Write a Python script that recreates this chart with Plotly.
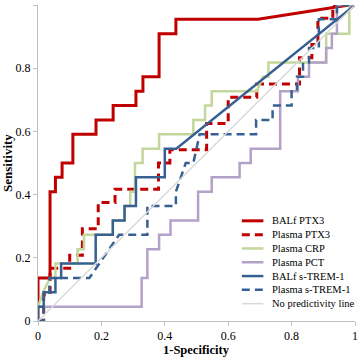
import plotly.graph_objects as go

# ---- data ----
balf_ptx3_fpr = [0, 0, 0.038, 0.038, 0.055, 0.055, 0.076, 0.076, 0.110, 0.110, 0.183, 0.183, 0.237, 0.237,
                 0.309, 0.309, 0.331, 0.331, 0.382, 0.382, 0.435, 0.435, 0.694, 0.982, 1]
balf_ptx3_tpr = [0, 0.136, 0.136, 0.409, 0.409, 0.455, 0.455, 0.5, 0.5, 0.591, 0.591, 0.636, 0.636, 0.682,
                 0.682, 0.727, 0.727, 0.773, 0.773, 0.909, 0.909, 0.955, 0.955, 1, 1]

plasma_ptx3_fpr = [0, 0.018, 0.018, 0.038, 0.038, 0.10, 0.10, 0.14, 0.14, 0.19, 0.19, 0.243, 0.243, 0.38, 0.38,
                   0.416, 0.416, 0.532, 0.532, 0.6, 0.6, 0.69, 0.69, 0.825, 0.825, 0.864, 0.864, 0.883, 0.883,
                   0.93, 0.93, 1]
plasma_ptx3_tpr = [0, 0, 0.083, 0.083, 0.167, 0.167, 0.208, 0.208, 0.292, 0.292, 0.375, 0.375, 0.417, 0.417, 0.5,
                   0.5, 0.542, 0.542, 0.625, 0.625, 0.708, 0.708, 0.75, 0.75, 0.833, 0.833, 0.875, 0.875, 0.958,
                   0.958, 1, 1]

plasma_crp_fpr = [0, 0, 0.016, 0.038, 0.055, 0.055, 0.125, 0.125, 0.145, 0.145, 0.236, 0.236, 0.273, 0.273,
                  0.291, 0.291, 0.306, 0.306, 0.33, 0.33, 0.382, 0.382, 0.49, 0.49, 0.527, 0.527, 0.548, 0.548,
                  0.69, 0.71, 0.727, 0.727, 0.909, 0.909, 0.982, 0.982, 1]
plasma_crp_tpr = [0, 0.045, 0.091, 0.136, 0.136, 0.182, 0.182, 0.227, 0.227, 0.273, 0.273, 0.318, 0.318, 0.364,
                  0.364, 0.409, 0.409, 0.5, 0.5, 0.545, 0.545, 0.591, 0.591, 0.636, 0.636, 0.682, 0.682, 0.727,
                  0.727, 0.773, 0.773, 0.818, 0.818, 0.909, 0.909, 1, 1]

plasma_pct_fpr = [0, 0, 0.327, 0.327, 0.345, 0.345, 0.382, 0.382, 0.418, 0.418, 0.505, 0.505, 0.548, 0.548,
                  0.636, 0.636, 0.671, 0.671, 0.764, 0.764, 0.82, 0.82, 0.855, 0.855, 0.909, 0.909, 0.927, 0.927,
                  0.943, 0.943, 1]
plasma_pct_tpr = [0, 0.045, 0.045, 0.136, 0.136, 0.227, 0.227, 0.273, 0.273, 0.318, 0.318, 0.409, 0.409, 0.455,
                  0.455, 0.5, 0.5, 0.545, 0.545, 0.727, 0.727, 0.773, 0.773, 0.818, 0.818, 0.864, 0.864, 0.909,
                  0.909, 1, 1]

balf_trem_fpr = [0, 0, 0.018, 0.018, 0.055, 0.055, 0.073, 0.073, 0.182, 0.182, 0.236, 0.236, 0.273, 0.273,
                 0.309, 0.309, 0.4, 0.4, 0.436, 1]
balf_trem_tpr = [0, 0.045, 0.045, 0.091, 0.091, 0.136, 0.136, 0.182, 0.182, 0.273, 0.273, 0.318, 0.318, 0.364,
                 0.364, 0.455, 0.455, 0.545, 0.545, 1]

plasma_trem_fpr = [0, 0.018, 0.018, 0.036, 0.036, 0.162, 0.256, 0.345, 0.345, 0.435, 0.435, 0.466, 0.49, 0.51,
                   0.688, 0.688, 0.74, 0.74, 0.8, 0.8, 0.817, 0.817, 0.836, 0.836, 0.855, 0.855, 0.886, 0.886,
                   0.943, 0.943, 1]
plasma_trem_tpr = [0, 0, 0.091, 0.091, 0.136, 0.136, 0.273, 0.273, 0.364, 0.364, 0.409, 0.5, 0.5, 0.591, 0.591,
                   0.636, 0.636, 0.682, 0.682, 0.727, 0.727, 0.773, 0.773, 0.818, 0.818, 0.864, 0.864, 0.955,
                   0.955, 1, 1]

ref_fpr = [0, 1]
ref_tpr = [0, 1]

tick_vals = [0, 0.2, 0.4, 0.6, 0.8, 1]
tick_text = ["0", "0.2", "0.4", "0.6", "0.8", "1"]

x_title = "1-Specificity"
y_title = "Sensitivity"

RED = "#C00000"
GREEN = "#C3D69B"
PURPLE = "#B3A2C7"
BLUE = "#376092"
GREY = "#D9D9D9"
DASH = "8px,5px"
FONT = "Liberation Serif"

series = [
    ("BALf PTX3", balf_ptx3_fpr, balf_ptx3_tpr, RED, "solid", 3),
    ("Plasma PTX3", plasma_ptx3_fpr, plasma_ptx3_tpr, RED, DASH, 3),
    ("Plasma CRP", plasma_crp_fpr, plasma_crp_tpr, GREEN, "solid", 2.5),
    ("Plasma PCT", plasma_pct_fpr, plasma_pct_tpr, PURPLE, "solid", 2.5),
    ("BALf s-TREM-1", balf_trem_fpr, balf_trem_tpr, BLUE, "solid", 2.5),
    ("Plasma s-TREM-1", plasma_trem_fpr, plasma_trem_tpr, BLUE, DASH, 2.5),
    ("No predictivity line", ref_fpr, ref_tpr, GREY, "solid", 1.5),
]

fig = go.Figure()
shapes = []
annotations = []
# manual legend geometry (paper coords)
LEG_X0, LEG_X1, LEG_TX = 0.643, 0.711, 0.733
LEG_Y0, LEG_DY = 0.317, 0.0437
for i, (name, xs, ys, color, dash, w) in enumerate(series):
    fig.add_trace(go.Scatter(x=xs, y=ys, mode="lines", name=name, showlegend=False, hoverinfo="skip",
                             line=dict(color=color, width=w, dash=dash)))
    yy = LEG_Y0 - i * LEG_DY
    shapes.append(dict(type="line", xref="paper", yref="paper", x0=LEG_X0, x1=LEG_X1, y0=yy, y1=yy,
                       line=dict(color=color, width=w, dash=dash)))
    annotations.append(dict(xref="paper", yref="paper", x=LEG_TX, y=yy, text=name, showarrow=False,
                            xanchor="left", yanchor="middle", font=dict(family=FONT, size=10.5, color="#000000")))

annotations.append(dict(xref="paper", yref="paper", x=0.5, y=-0.093, text="<b>%s</b>" % x_title, showarrow=False,
                        xanchor="center", yanchor="middle", font=dict(family=FONT, size=12.5, color="#000000")))
annotations.append(dict(xref="paper", yref="paper", x=-0.098, y=0.5, text="<b>%s</b>" % y_title, showarrow=False,
                        textangle=-90, xanchor="center", yanchor="middle",
                        font=dict(family=FONT, size=13, color="#000000")))

axis_common = dict(range=[0, 1], tickvals=tick_vals, ticktext=tick_text, showgrid=False, zeroline=False,
                   showline=True, linecolor="#BFBFBF", linewidth=1, ticks="outside", ticklen=4,
                   tickcolor="#BFBFBF", automargin=False,
                   tickfont=dict(family=FONT, size=12, color="#000000"))

fig.update_layout(
    width=358, height=358, autosize=False,
    margin=dict(l=38, r=3, t=5, b=37),
    paper_bgcolor="white", plot_bgcolor="white",
    font=dict(family=FONT, color="#000000"),
    xaxis=axis_common,
    yaxis=axis_common,
    shapes=shapes,
    annotations=annotations,
    showlegend=False,
    hovermode=False,
)

fig.write_html("out.html", config={"displayModeBar": False},
               post_script="document.body.style.margin='0';document.body.style.overflow='hidden';")
